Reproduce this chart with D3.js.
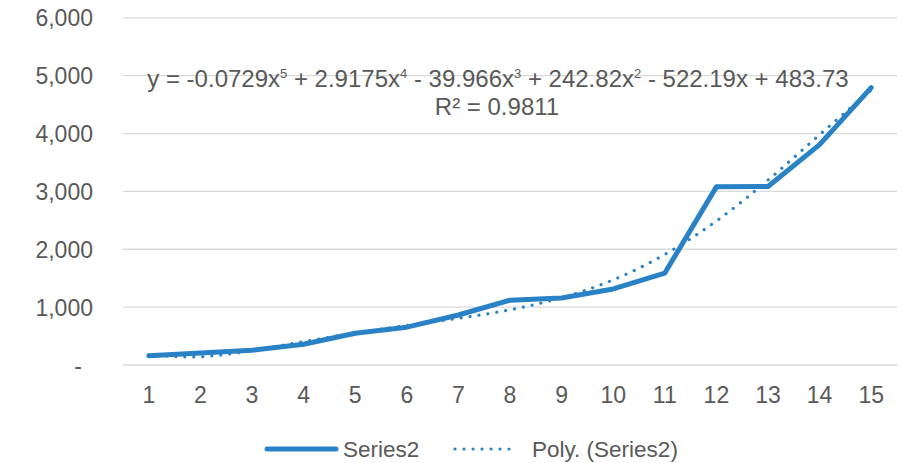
<!DOCTYPE html>
<html>
<head>
<meta charset="utf-8">
<script src="https://cdn.jsdelivr.net/npm/d3@7/dist/d3.min.js"></script>
<style>
  html, body { margin: 0; padding: 0; background: #fff; }
  svg { display: block; }
  text { font-family: "Liberation Sans", Arial, sans-serif; fill: #595959; }
</style>
</head>
<body>
<svg id="chart" width="902" height="463"></svg>
<script>
// ---- data ----
const categories = ["1","2","3","4","5","6","7","8","9","10","11","12","13","14","15"];
const series2 = [150, 200, 245, 350, 540, 645, 855, 1110, 1150, 1305, 1580, 3070, 3075, 3800, 4785];
// Polynomial trendline values (order 5), read at each category
const polyValues = [167, 135, 242, 395, 543, 674, 798, 945, 1154, 1463, 1901, 2480, 3186, 3970, 4740];
const yTicks = [0, 1000, 2000, 3000, 4000, 5000, 6000];
const yTickLabels = ["-", "1,000", "2,000", "3,000", "4,000", "5,000", "6,000"];
const equationText = ["y = -0.0729x", "5", " + 2.9175x", "4", " - 39.966x", "3", " + 242.82x", "2", " - 522.19x + 483.73"];
const r2Text = "R² = 0.9811";
const legendLabels = ["Series2", "Poly. (Series2)"];

// ---- layout ----
const color = "#2A82C6";
const svg = d3.select("#chart");
const mLeft = 123, mRight = 897, mTop = 17.3, mBottom = 364.5;
const axisFs = "23px", eqFs = "24px", supFs = "13px", legFs = "22.5px";

const x = d3.scaleBand().domain(categories).range([mLeft, mRight]).padding(0);
const y = d3.scaleLinear().domain([0, 6000]).range([mBottom, mTop]);
const cx = c => x(c) + x.bandwidth() / 2;

// gridlines + y labels
const yAxis = d3.axisLeft(y).tickValues(yTicks).tickSize(-(mRight - mLeft))
  .tickFormat((d, i) => yTickLabels[i]).tickPadding(30);
const gy = svg.append("g").attr("transform", `translate(${mLeft},0)`).call(yAxis);
gy.attr("font-family", null).attr("font-size", null);
gy.select(".domain").remove();
gy.selectAll(".tick line").attr("stroke", "#D9D9D9").attr("stroke-width", 1.3);
gy.selectAll(".tick text").style("font-size", axisFs).attr("fill", "#595959")
  .attr("dy", "0.37em");
gy.selectAll(".tick text").filter((d) => d === 0).attr("x", -41);

// x axis labels
const xAxis = d3.axisBottom(x).tickSize(0).tickPadding(22);
const gx = svg.append("g").attr("transform", `translate(0,${mBottom})`).call(xAxis);
gx.attr("font-family", null).attr("font-size", null);
gx.select(".domain").remove();
gx.selectAll(".tick text").style("font-size", axisFs).attr("fill", "#595959");

// series line
const line = d3.line().x((d, i) => cx(categories[i])).y(d => y(d));
svg.append("path").datum(series2)
  .attr("d", line)
  .attr("fill", "none").attr("stroke", color).attr("stroke-width", 5)
  .attr("stroke-linejoin", "round").attr("stroke-linecap", "round");

// polynomial trendline
const curveLine = d3.line().x((d, i) => cx(categories[i])).y(d => y(d)).curve(d3.curveNatural);
svg.append("path").datum(polyValues)
  .attr("d", curveLine)
  .attr("fill", "none").attr("stroke", color).attr("stroke-width", 3.2)
  .attr("stroke-dasharray", "0.01 9").attr("stroke-linecap", "round");

// equation label
const eq = svg.append("text").attr("x", 498).attr("y", 87).attr("text-anchor", "middle")
  .style("font-size", eqFs);
equationText.forEach((t, i) => {
  const sup = i % 2 === 1;
  eq.append("tspan").text(t)
    .style("font-size", sup ? supFs : eqFs)
    .attr("dy", sup ? -9 : (i > 0 ? 9 : 0));
});
svg.append("text").attr("x", 497).attr("y", 115).attr("text-anchor", "middle")
  .style("font-size", eqFs).text(r2Text);

// legend
const lg = svg.append("g");
lg.append("line").attr("x1", 267).attr("x2", 336).attr("y1", 449).attr("y2", 449)
  .attr("stroke", color).attr("stroke-width", 5).attr("stroke-linecap", "round");
lg.append("text").attr("x", 343).attr("y", 457).style("font-size", legFs).text(legendLabels[0]);
lg.append("line").attr("x1", 455).attr("x2", 518).attr("y1", 449).attr("y2", 449)
  .attr("stroke", color).attr("stroke-width", 3.2).attr("stroke-dasharray", "0.01 9")
  .attr("stroke-linecap", "round");
lg.append("text").attr("x", 532).attr("y", 457).style("font-size", legFs).text(legendLabels[1]);
</script>
</body>
</html>
